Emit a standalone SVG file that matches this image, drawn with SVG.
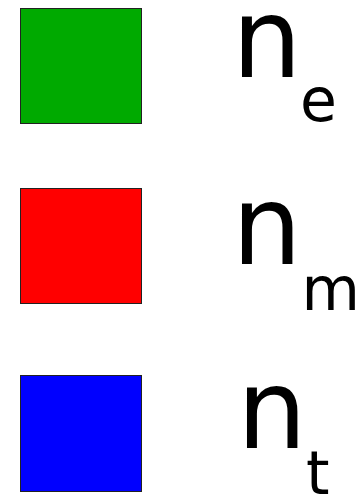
<svg xmlns="http://www.w3.org/2000/svg" width="358" height="494" viewBox="0 0 358 494">
<style>
.sq{stroke:#222;stroke-width:1}
.big{font-family:"DejaVu Sans",sans-serif;font-size:110px;fill:#000}
.sub{font-family:"DejaVu Sans",sans-serif;font-size:60px;fill:#000}
</style>
<rect width="358" height="494" fill="#fff"/>
<g id="node-e">
<rect class="sq" x="20.5" y="8.5" width="121" height="115" fill="#00aa00"/>
<text class="big" x="232" y="77">n</text>
<text class="sub" x="300" y="121">e</text>
</g>
<g id="node-m">
<rect class="sq" x="20.5" y="188.5" width="121" height="115" fill="#ff0000"/>
<text class="big" x="232" y="264">n</text>
<text class="sub" x="301.5" y="310">m</text>
</g>
<g id="node-t">
<rect class="sq" x="20.5" y="375.5" width="121" height="116" fill="#0000ff"/>
<text class="big" x="237" y="448">n</text>
<text class="sub" x="306" y="494">t</text>
</g>
<g id="connectors"/>
</svg>
